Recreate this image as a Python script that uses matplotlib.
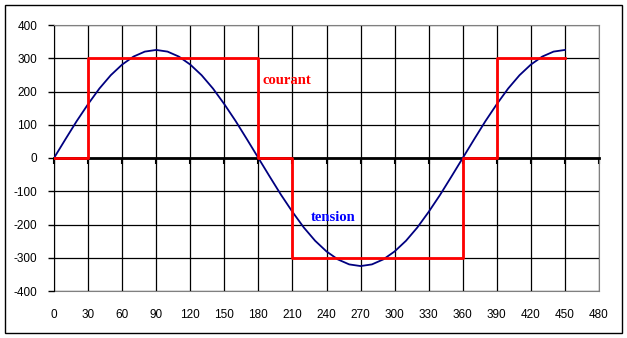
import matplotlib.pyplot as plt
from matplotlib.patches import Rectangle

plt.rcParams["axes.unicode_minus"] = False

# angle in degrees, tension sampled every 10 degrees
angle = [0, 10, 20, 30, 40, 50, 60, 70, 80, 90,
         100, 110, 120, 130, 140, 150, 160, 170, 180,
         190, 200, 210, 220, 230, 240, 250, 260, 270,
         280, 290, 300, 310, 320, 330, 340, 350, 360,
         370, 380, 390, 400, 410, 420, 430, 440, 450]
tension = [0, 56, 111, 162, 209, 249, 281, 305, 320, 325,
           320, 305, 281, 249, 209, 162, 111, 56, 0,
           -56, -111, -162, -209, -249, -281, -305, -320, -325,
           -320, -305, -281, -249, -209, -162, -111, -56, 0,
           56, 111, 162, 209, 249, 281, 305, 320, 325]

# current: step levels starting at each breakpoint
courant_x = [0, 30, 180, 210, 360, 390, 450]
courant_y = [0, 300, 0, -300, 0, 300, 300]

x_ticks = list(range(0, 481, 30))
y_ticks = list(range(-400, 401, 100))

fig = plt.figure(figsize=(6.27, 3.38), dpi=100)
ax = fig.add_axes([54 / 627, 1 - 291 / 338, 545 / 627, 266 / 338])

ax.plot(angle, tension, color="#000080", lw=1.3, zorder=3)
ax.step(courant_x, courant_y, where="post", color="#ff0000", lw=2.0, zorder=4)

ax.set_xlim(0, 480)
ax.set_ylim(-400, 400)
ax.set_xticks(x_ticks)
ax.set_yticks(y_ticks)
ax.grid(True, color="black", lw=0.9)
ax.set_axisbelow(True)

tick_font = dict(family="Liberation Sans", size=8.5)

# zero line carries the x tick marks, labels sit on a separate bottom axis
ax.spines["bottom"].set_position(("data", 0))
ax.spines["bottom"].set_linewidth(2.0)
ax.spines["bottom"].set_zorder(2.5)
ax.tick_params(axis="x", direction="out", length=4, width=1.5, labelbottom=False)
ax.tick_params(axis="y", direction="out", length=4, width=1, pad=8)
for lab in ax.get_yticklabels():
    lab.set_fontfamily(tick_font["family"])
    lab.set_fontsize(tick_font["size"])

for side in ("top", "right"):
    ax.spines[side].set_color("#808080")
ax.spines["left"].set_color("black")

sec = ax.secondary_xaxis(0)
sec.set_xticks(x_ticks)
sec.tick_params(length=0, pad=13)
sec.spines["bottom"].set_color("#808080")
for lab in sec.get_xticklabels():
    lab.set_fontfamily(tick_font["family"])
    lab.set_fontsize(tick_font["size"])

ax.text(184, 232, "courant", color="#ff0000", fontsize=10.5, fontweight="bold",
        family="Liberation Serif", va="center", ha="left")
ax.text(226, -180, "tension", color="#0000ff", fontsize=10.5, fontweight="bold",
        family="Liberation Serif", va="center", ha="left")

# outer frame around the chart
fig.patches.append(Rectangle((5 / 627, 1 - 333 / 338), 617 / 627, 328 / 338,
                             transform=fig.transFigure, fill=False,
                             edgecolor="black", lw=1.0))

fig.savefig("out.png", dpi=100)
